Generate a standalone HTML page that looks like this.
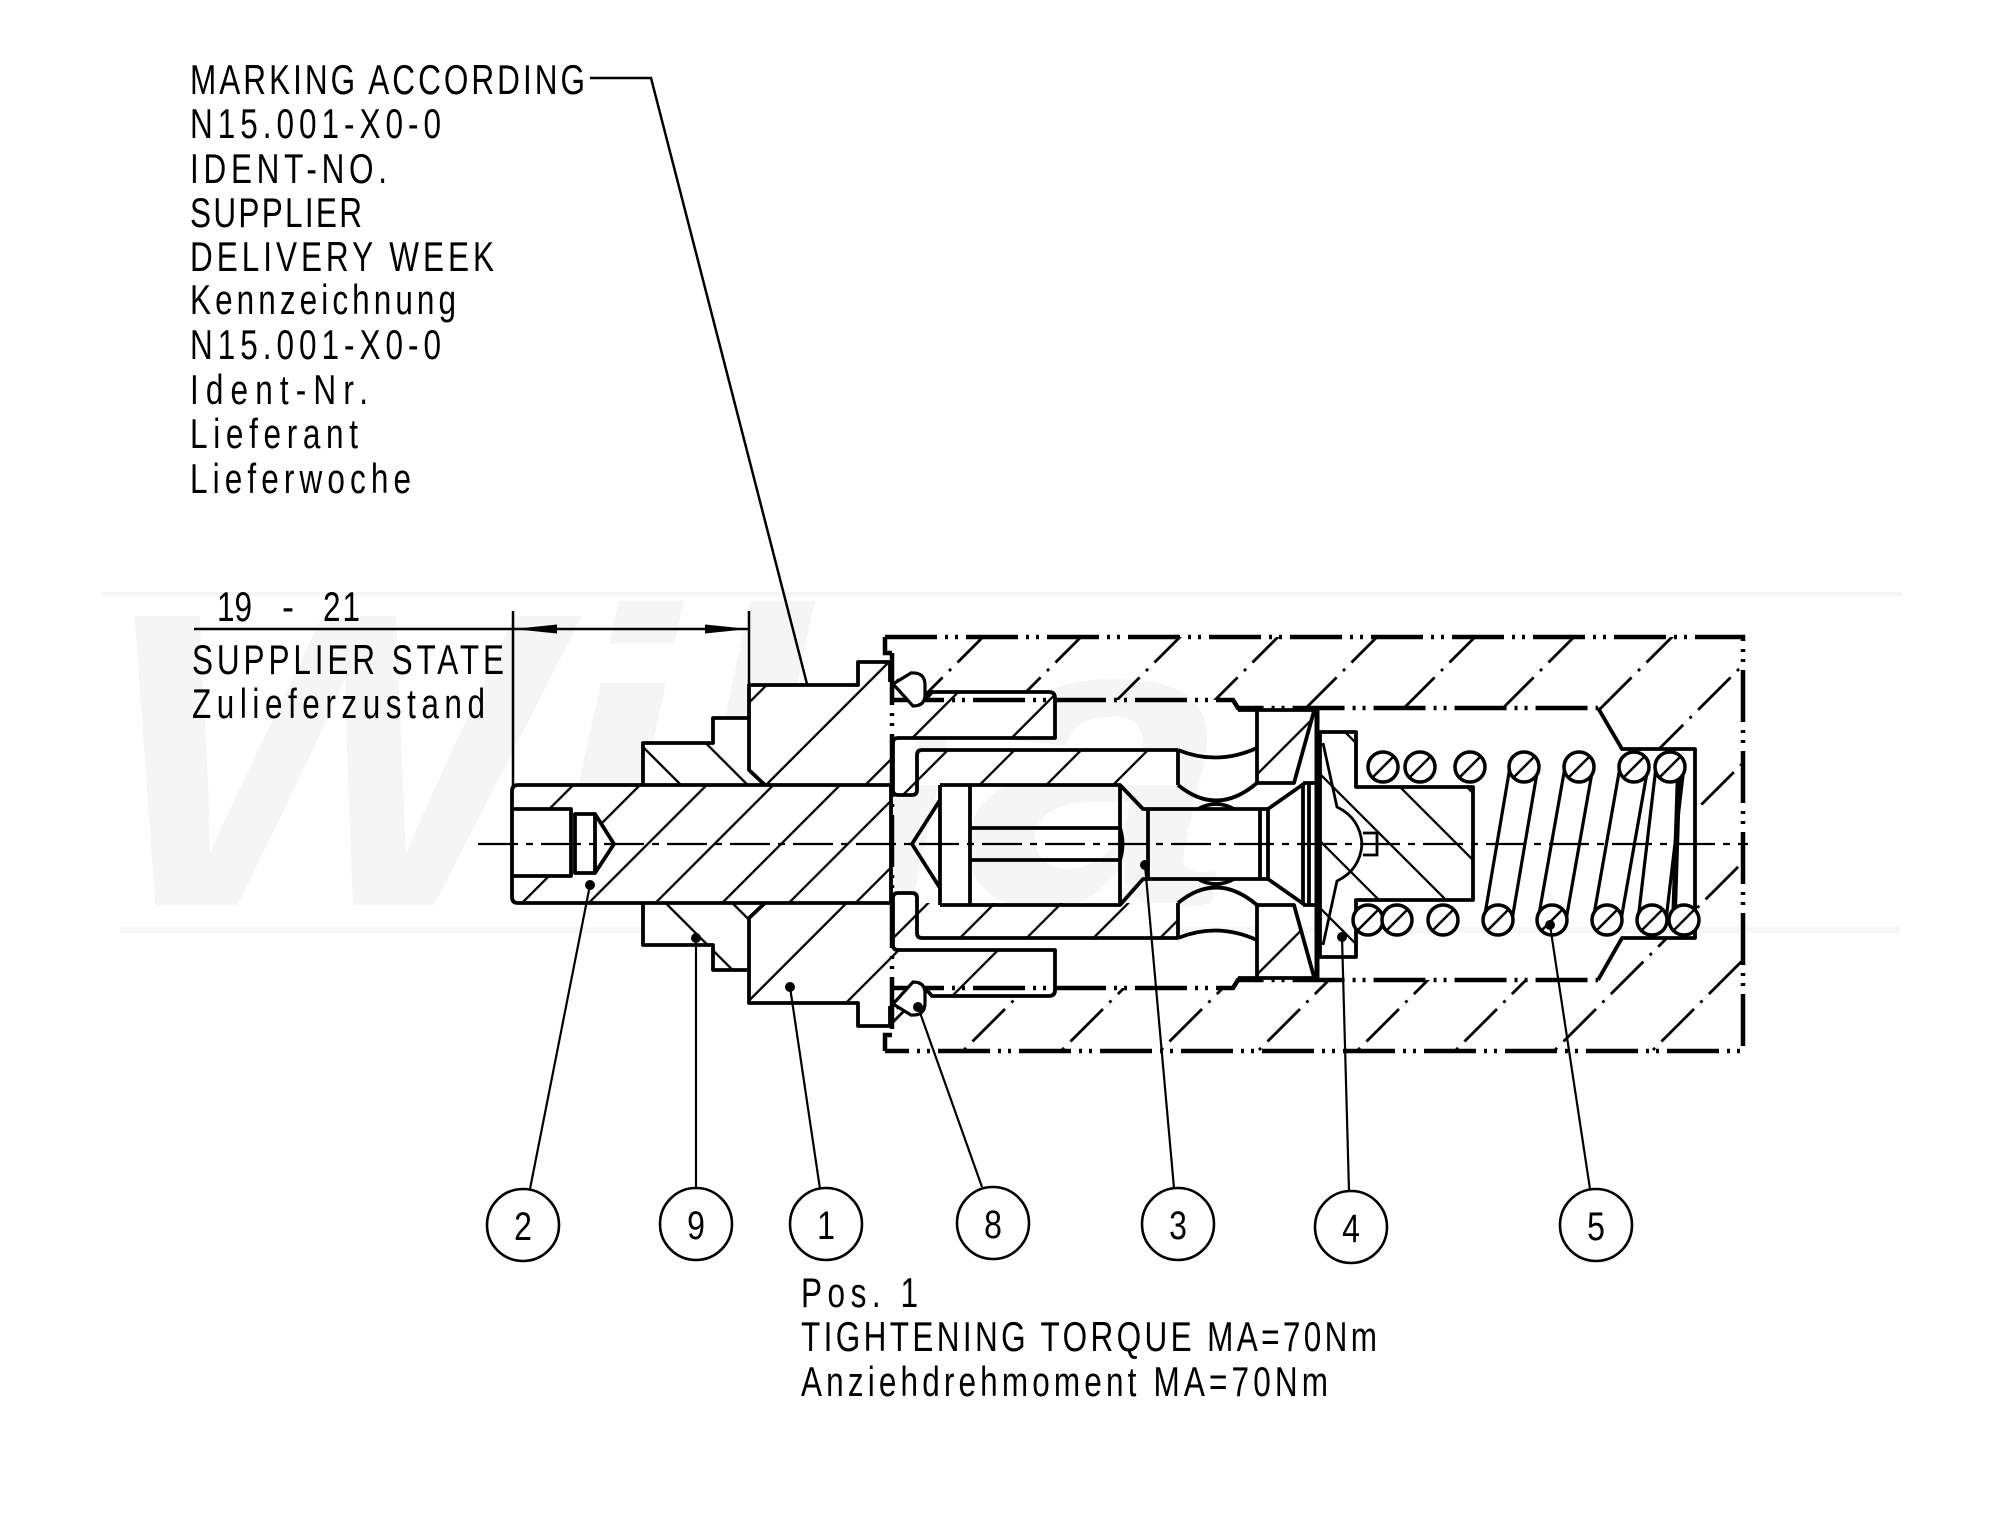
<!DOCTYPE html>
<html><head><meta charset="utf-8"><style>
html,body{margin:0;padding:0;background:#fff;}
svg{display:block;}
text{font-family:"Liberation Sans",sans-serif;fill:#000;}
</style></head><body>
<svg width="2002" height="1529" viewBox="0 0 2002 1529" xmlns="http://www.w3.org/2000/svg">
<defs>
<pattern id="h1" patternUnits="userSpaceOnUse" x="61.5" y="0" width="99.3" height="99.3"><path d="M-3,3 L3,-3 M0,99.3 L99.3,0 M96.3,102.3 L102.3,96.3" stroke="#000" stroke-width="2.3" fill="none"/></pattern>
<pattern id="h2" patternUnits="userSpaceOnUse" x="24.3" y="0" width="66.7" height="66.7"><path d="M-3,3 L3,-3 M0,66.7 L66.7,0 M63.7,69.7 L69.7,63.7" stroke="#000" stroke-width="2.3" fill="none"/></pattern>
<pattern id="h3" patternUnits="userSpaceOnUse" x="30.4" y="0" width="66.7" height="66.7"><path d="M-3,3 L3,-3 M0,66.7 L66.7,0 M63.7,69.7 L69.7,63.7" stroke="#000" stroke-width="2.3" fill="none"/></pattern>
<pattern id="h9" patternUnits="userSpaceOnUse" x="29.4" y="0" width="66.7" height="66.7"><path d="M0,0 L66.7,66.7 M63.7,-3 L69.7,3 M-3,63.7 L3,69.7" stroke="#000" stroke-width="2.3" fill="none"/></pattern>
<pattern id="h4" patternUnits="userSpaceOnUse" x="10" y="0" width="67" height="67"><path d="M0,0 L67,67 M64,-3 L70,3 M-3,64 L3,70" stroke="#000" stroke-width="2.3" fill="none"/></pattern>
<clipPath id="bodyclip"><path clip-rule="evenodd" d="M892,637 H1743 V1051 H892 Z M892,700 H1233 L1238,708 H1598 L1622,749 H1695 V938 H1622 L1598,980 H1238 L1233,988 H892 Z"/></clipPath>
</defs>
<rect width="2002" height="1529" fill="#fff"/>

<!-- faint watermark -->
<g fill="#f4f4f4">
<text x="100" y="905" font-size="420" font-weight="bold" font-style="italic" textLength="1130" lengthAdjust="spacingAndGlyphs" style="fill:#f5f5f5">Wiha</text>
<rect x="102" y="592" width="1800" height="4" fill="#f6f6f6"/>
<rect x="120" y="927" width="1780" height="6" fill="#f6f6f6"/>
</g>

<!-- body hatch (phantom) -->
<g clip-path="url(#bodyclip)" stroke="#000" stroke-width="2.8" stroke-dasharray="46 9 3 9" fill="none">
<path d="M892,630 L464,1058 M990,630 L562,1058 M1088,630 L660,1058 M1187,630 L759,1058 M1285,630 L857,1058 M1384,630 L956,1058 M1482,630 L1054,1058 M1581,630 L1153,1058 M1679,630 L1251,1058 M1778,630 L1350,1058 M1876,630 L1448,1058 M1975,630 L1547,1058 M2073,630 L1645,1058 M2172,630 L1744,1058"/>
</g>

<!-- part fills -->
<g stroke="none">
<path fill="#fff" d="M749,685 H858 V662 H890 V700 H925 L932,692 H1049 Q1055,692 1055,698 V738 H893 V785 H765 L749,770 Z"/>
<path fill="url(#h1)" d="M749,685 H858 V662 H890 V700 H925 L932,692 H1049 Q1055,692 1055,698 V738 H893 V785 H765 L749,770 Z"/>
<path fill="#fff" d="M749,1003 H858 V1026 H890 V988 H925 L932,996 H1049 Q1055,996 1055,990 V950 H893 V903 H765 L749,918 Z"/>
<path fill="url(#h1)" d="M749,1003 H858 V1026 H890 V988 H925 L932,996 H1049 Q1055,996 1055,990 V950 H893 V903 H765 L749,918 Z"/>

<path fill="#fff" d="M643,786 V743 H713 V718 H749 V786 Z M643,902 V945 H713 V970 H749 V902 Z"/>
<path fill="url(#h9)" d="M643,786 V743 H713 V718 H749 V786 Z M643,902 V945 H713 V970 H749 V902 Z"/>

<path fill="#fff" d="M518,785 H891 V903 H518 Q512,903 512,897 V791 Q512,785 518,785 Z"/>
<path fill="url(#h2)" fill-rule="evenodd" d="M518,785 H891 V903 H518 Q512,903 512,897 V791 Q512,785 518,785 Z M512,809 H571 V814 H595 L614,844 L595,873 H571 V876 H512 Z"/>

<path fill="#fff" d="M893,738 H917 V750 H1178 V785 H917 V795 H893 Z M893,950 H917 V938 H1178 V903 H917 V893 H893 Z M1257,710 H1314 L1294,783 H1257 Z M1257,978 H1314 L1294,905 H1257 Z"/>
<path fill="url(#h3)" d="M893,738 H917 V750 H1178 V785 H917 V795 H893 Z M893,950 H917 V938 H1178 V903 H917 V893 H893 Z M1257,710 H1314 L1294,783 H1257 Z M1257,978 H1314 L1294,905 H1257 Z"/>

<path fill="#fff" d="M1320,732 H1356 V787 H1473 V900 H1356 V957 H1320 Z"/>
<path fill="url(#h4)" d="M1320,732 H1356 V787 H1473 V900 H1356 V957 H1320 Z"/>
</g>

<!-- body phantom outline -->
<g stroke="#000" stroke-width="4.5" fill="none" stroke-dasharray="52 8 3 7 3 8">
<path d="M885,637 H1743 V1051 H885"/>
<path d="M892,653 V1035"/>
<path d="M892,700 H1233 L1238,708 H1598"/>
<path d="M892,988 H1233 L1238,980 H1598"/>
</g>
<path d="M885,637 V653 H892 M885,1051 V1035 H892" stroke="#000" stroke-width="4.5" fill="none"/>

<!-- solid outlines -->
<g stroke="#000" stroke-width="3.8" fill="none" stroke-linejoin="round">
<path d="M765,785 L749,770 V685 H858 V662 H890 V682"/>
<path d="M925,700 L932,692 H1049 Q1055,692 1055,698 V738 H898 Q893,738 893,743 V790 Q893,795 898,795 H912 Q917,795 917,790 V755 Q917,750 922,750 H1178"/>
<path d="M765,903 L749,918 V1003 H858 V1026 H890 V1006"/>
<path d="M925,988 L932,996 H1049 Q1055,996 1055,990 V950 H898 Q893,950 893,945 V898 Q893,893 898,893 H912 Q917,893 917,898 V933 Q917,938 922,938 H1178"/>
<path d="M643,785 V743 H713 V718 H749 M643,903 V945 H713 V970 H749"/>
<path d="M518,785 H891 V903 H518 Q512,903 512,897 V791 Q512,785 518,785 Z"/>
<path d="M512,809 H571 V876 H512 M575,814 H595 V873 H575 Z M595,814 L614,844 L595,873"/>
<path d="M1178,750 V785 M1178,903 V938"/>
<path d="M1178,750 Q1217,766 1257,748 M1178,785 Q1217,817 1257,783 M1178,938 Q1217,922 1257,940 M1178,903 Q1217,871 1257,905"/>
<path d="M1257,710 V783 H1294 L1314,711 M1238,710 H1317 M1257,978 V905 H1294 L1314,977 M1238,978 H1317"/>
<path d="M940,785 H1120 L1143,809 H1268 L1305,783 M940,905 H1120 L1143,879 H1268 L1305,905"/>
<path d="M940,785 V905 M970,785 V905 M1120,785 V905 M970,828 H1120 Q1125,844 1120,860 H970 M940,800 L912,844 L940,888"/>
<path d="M1148,809 V879 M1260,809 V879 M1268,809 V879"/>
<path d="M1198,809 Q1216,799 1234,809 M1198,879 Q1216,889 1234,879"/>
<path d="M1303,783 H1317 M1303,905 H1317 M1303,783 V905 M1309,783 V905"/>
<path d="M1320,732 H1356 V787 H1473 V900 H1356 V957 H1320 Z"/>
<path d="M1598,708 L1622,749 H1695 V938 H1622 L1598,980"/>
</g>
<path d="M1317,710 V978" stroke="#000" stroke-width="5" fill="none"/>
<path d="M1323,743 L1337,807 Q1360,818 1362,844 Q1360,870 1337,881 L1323,945 M1363,833 H1377 V855 H1363" stroke="#000" stroke-width="2.8" fill="none"/>
<path d="M897,679 L916,700 M897,1009 L916,988" stroke="#000" stroke-width="2" fill="none"/>

<!-- O-rings -->
<g stroke="#000" stroke-width="3.2" fill="#fff">
<path d="M893,684 L911,673 Q925,672 925,685 V695 Q925,706 913,706 Z"/>
<path d="M893,1004 L911,1015 Q925,1016 925,1003 V993 Q925,982 913,982 Z"/>
</g>

<!-- spring -->
<g stroke="#000" stroke-width="3.2" fill="none">
<path d="M1510,767 L1484,920 M1538,767 L1512,920 M1565,767 L1538,920 M1593,767 L1566,920 M1620,767 L1593,920 M1648,767 L1621,920 M1656,767 L1638,920 M1684,767 L1666,920"/>
</g>
<path d="M1679,762 L1674,918" stroke="#000" stroke-width="5.5"/>
<g stroke="#000" stroke-width="3.5" fill="#fff">
<circle cx="1383" cy="767" r="15"/><circle cx="1420" cy="767" r="15"/><circle cx="1470" cy="767" r="15"/><circle cx="1524" cy="767" r="15"/><circle cx="1579" cy="767" r="15"/><circle cx="1634" cy="767" r="15"/><circle cx="1670" cy="767" r="15"/>
<circle cx="1368" cy="920" r="15"/><circle cx="1397" cy="920" r="15"/><circle cx="1443" cy="920" r="15"/><circle cx="1498" cy="920" r="15"/><circle cx="1552" cy="920" r="15"/><circle cx="1607" cy="920" r="15"/><circle cx="1652" cy="920" r="15"/><circle cx="1684" cy="920" r="15"/>
</g>
<g stroke="#000" stroke-width="2.5">
<path d="M1373,777 L1393,757 M1410,777 L1430,757 M1460,777 L1480,757 M1514,777 L1534,757 M1569,777 L1589,757 M1624,777 L1644,757 M1660,777 L1680,757"/>
<path d="M1358,930 L1378,910 M1387,930 L1407,910 M1433,930 L1453,910 M1488,930 L1508,910 M1542,930 L1562,910 M1597,930 L1617,910 M1642,930 L1662,910 M1674,930 L1694,910"/>
</g>

<!-- centerline -->
<path d="M478,844 H1748" stroke="#000" stroke-width="2.2" stroke-dasharray="40 8 7 8" fill="none"/>

<!-- dimension -->
<g stroke="#000" stroke-width="2.5" fill="none">
<path d="M194,629 H749 M513,611 V786 M749,611 V685"/>
<path d="M590,78 H651 L807,684"/>
</g>
<path d="M513,629 L557,624.5 L557,633.5 Z M749,629 L705,624.5 L705,633.5 Z" fill="#000"/>

<!-- leaders -->
<g stroke="#000" stroke-width="2.2" fill="none">
<path d="M590,885 L530,1189 M696,938 V1188 M790,987 L820,1189 M918,1007 L982,1187 M1145,865 L1174,1188 M1342,937 L1349,1191 M1550,925 L1590,1189"/>
</g>
<g fill="#000">
<circle cx="590" cy="885" r="5"/><circle cx="696" cy="938" r="5"/><circle cx="790" cy="987" r="5"/><circle cx="918" cy="1007" r="5"/><circle cx="1145" cy="865" r="5"/><circle cx="1342" cy="937" r="5"/><circle cx="1550" cy="925" r="5"/>
</g>
<g stroke="#000" stroke-width="2.6" fill="#fff">
<circle cx="523" cy="1225" r="36"/><circle cx="696" cy="1224" r="36"/><circle cx="826" cy="1224" r="36"/><circle cx="993" cy="1223" r="36"/><circle cx="1178" cy="1224" r="36"/><circle cx="1351" cy="1227" r="36"/><circle cx="1596" cy="1225" r="36"/>
</g>
<g font-size="40" text-anchor="middle">
<text transform="translate(523,1240) scale(0.8,1)">2</text>
<text transform="translate(696,1239) scale(0.8,1)">9</text>
<text transform="translate(826,1239) scale(0.8,1)">1</text>
<text transform="translate(993,1238) scale(0.8,1)">8</text>
<text transform="translate(1178,1239) scale(0.8,1)">3</text>
<text transform="translate(1351,1242) scale(0.8,1)">4</text>
<text transform="translate(1596,1240) scale(0.8,1)">5</text>
</g>

<!-- texts (narrow glyphs, wide spacing) -->
<g font-size="42">
<text transform="translate(190,94) scale(0.75,1)" textLength="526.7" lengthAdjust="spacing">MARKING ACCORDING</text>
<text transform="translate(190,138) scale(0.75,1)" textLength="334.7" lengthAdjust="spacing">N15.001-X0-0</text>
<text transform="translate(190,183) scale(0.75,1)" textLength="262.7" lengthAdjust="spacing">IDENT-NO.</text>
<text transform="translate(190,227) scale(0.75,1)" textLength="229.3" lengthAdjust="spacing">SUPPLIER</text>
<text transform="translate(190,271) scale(0.75,1)" textLength="405.3" lengthAdjust="spacing">DELIVERY WEEK</text>
<text transform="translate(190,314) scale(0.75,1)" textLength="354.7" lengthAdjust="spacing">Kennzeichnung</text>
<text transform="translate(190,359) scale(0.75,1)" textLength="334.7" lengthAdjust="spacing">N15.001-X0-0</text>
<text transform="translate(190,404) scale(0.75,1)" textLength="237.3" lengthAdjust="spacing">Ident-Nr.</text>
<text transform="translate(190,448) scale(0.75,1)" textLength="224" lengthAdjust="spacing">Lieferant</text>
<text transform="translate(190,493) scale(0.75,1)" textLength="294.7" lengthAdjust="spacing">Lieferwoche</text>

<text transform="translate(217,621) scale(0.75,1)" textLength="46.7" lengthAdjust="spacing">19</text>
<text transform="translate(282,621) scale(0.75,1)" textLength="16" lengthAdjust="spacingAndGlyphs">-</text>
<text transform="translate(323,621) scale(0.75,1)" textLength="49.3" lengthAdjust="spacing">21</text>
<text transform="translate(192,674) scale(0.75,1)" textLength="416" lengthAdjust="spacing">SUPPLIER STATE</text>
<text transform="translate(192,718) scale(0.75,1)" textLength="390.7" lengthAdjust="spacing">Zulieferzustand</text>

<text transform="translate(801,1307) scale(0.75,1)" textLength="156" lengthAdjust="spacing">Pos. 1</text>
<text transform="translate(801,1351) scale(0.75,1)" textLength="768" lengthAdjust="spacing">TIGHTENING TORQUE MA=70Nm</text>
<text transform="translate(801,1396) scale(0.75,1)" textLength="702.7" lengthAdjust="spacing">Anziehdrehmoment MA=70Nm</text>
</g>
</svg>
</body></html>
